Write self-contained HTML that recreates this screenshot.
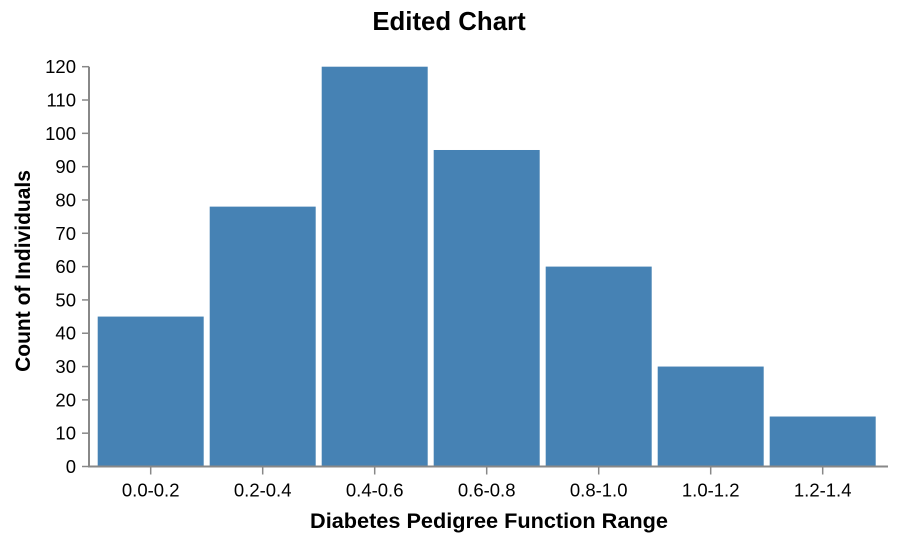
<!DOCTYPE html>
<html><head><meta charset="utf-8"><style>
body{margin:0;background:#fff;font-family:"Liberation Sans",Arial,sans-serif}
svg text{font-family:"Liberation Sans",Arial,sans-serif}
</style></head><body>
<svg id="chart" width="898" height="540" xmlns="http://www.w3.org/2000/svg">
<text x="449" y="30" text-anchor="middle" font-size="25.8" font-weight="bold" fill="#000">Edited Chart</text>
<g id="bars"></g><g id="axes"></g>
<text x="489" y="528" text-anchor="middle" font-size="21.7" font-weight="bold" fill="#000">Diabetes Pedigree Function Range</text>
<text transform="translate(30,271) rotate(-90)" text-anchor="middle" font-size="21" font-weight="bold" fill="#000">Count of Individuals</text>
</svg>
<script>
const categories=["0.0-0.2","0.2-0.4","0.4-0.6","0.6-0.8","0.8-1.0","1.0-1.2","1.2-1.4"];
const counts=[45,78,120,95,60,30,15];
const yTicks=[0,10,20,30,40,50,60,70,80,90,100,110,120];
const NS="http://www.w3.org/2000/svg";
const x0=89,x1=888,y0=466.5,yTop=66.7,yMax=120;
const step=112, bw=106, firstCenter=150.7;
const y=v=>y0-(v/yMax)*(y0-yTop);
const xc=i=>firstCenter+step*i;
function mk(t,a,p){const e=document.createElementNS(NS,t);for(const k in a)e.setAttribute(k,a[k]);p.appendChild(e);return e;}
const bars=document.getElementById('bars'),axes=document.getElementById('axes');
counts.forEach((v,i)=>{
 const r=mk('rect',{x:xc(i)-bw/2,y:y(v),width:bw,height:y0-y(v),fill:'#4682b4'},bars);
 
 
});
const ya=mk('line',{x1:x0,x2:x0,y1:yTop,y2:y0,stroke:'#888','stroke-width':2},axes);


yTicks.forEach(t=>{
 mk('line',{x1:x0-7,x2:x0,y1:y(t),y2:y(t),stroke:'#888','stroke-width':1.5},axes);
 const tx=mk('text',{x:x0-13,y:y(t)+6.5,'text-anchor':'end','font-size':18.5,fill:'#000'},axes);
 tx.textContent=t;
 
 
});
const xa=mk('line',{x1:x0-1,x2:x1,y1:y0,y2:y0,stroke:'#888','stroke-width':2},axes);


categories.forEach((c,i)=>{
 mk('line',{x1:xc(i),x2:xc(i),y1:y0,y2:y0+8,stroke:'#888','stroke-width':1.5},axes);
 const tx=mk('text',{x:xc(i),y:y0+30,'text-anchor':'middle','font-size':18.5,fill:'#000'},axes);
 tx.textContent=c;
 
 
});
</script>
</body></html>
